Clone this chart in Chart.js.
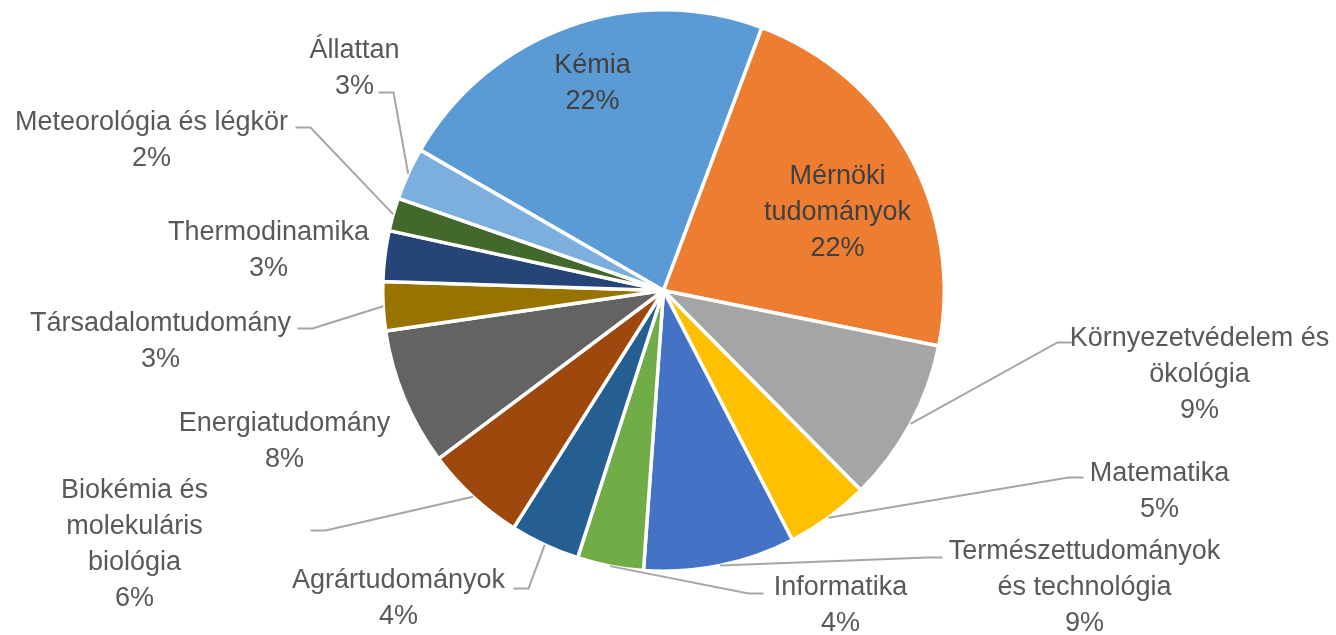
<!DOCTYPE html>
<html>
<head>
<meta charset="utf-8">
<script src="https://cdn.jsdelivr.net/npm/chart.js@4/dist/chart.umd.min.js"></script>
<style>
  html, body { margin: 0; padding: 0; background: #fff; }
  #wrap { width: 1336px; height: 635px; position: relative; }
</style>
</head>
<body>
<div id="wrap"><canvas id="pieChart"></canvas></div>
<script>
// data, in slice order (clockwise, starting with Kémia)
const categories = [
  ['Kémia'],
  ['Mérnöki', 'tudományok'],
  ['Környezetvédelem és', 'ökológia'],
  ['Matematika'],
  ['Természettudományok', 'és technológia'],
  ['Informatika'],
  ['Agrártudományok'],
  ['Biokémia és', 'molekuláris', 'biológia'],
  ['Energiatudomány'],
  ['Társadalomtudomány'],
  ['Thermodinamika'],
  ['Meteorológia és légkör'],
  ['Állattan']
];
const shares = [22.3, 22.4, 9.4, 4.8, 8.7, 3.8, 4.0, 5.8, 7.9, 2.8, 2.9, 1.9, 3.0];
const colors = ['#5B9BD5', '#ED7D31', '#A5A5A5', '#FFC000', '#4472C4', '#70AD47', '#255E91',
                '#9E480E', '#636363', '#997300', '#264478', '#43682B', '#7CAFDD'];

// label layout, offsets from the pie centre: [centre x of text block, first baseline]
const labelPos = [
  [-71, -218], [174, -107], [536, 55], [496, 190], [421, 268], [177, 304], [-265, 297],
  [-529, 207], [-379, 140], [-503, 40], [-395, -51], [-512, -161], [-309, -233]
];
// leader line start (offset from centre) and direction of its short horizontal tick
const leaders = [
  null, null, [409, 52, -1], [420, 187, -1], [279, 267, -1], [100, 303, -1], [-150, 298, 1],
  [-353, 240, 1], null, [-366, 38, 1], null, [-368, -163, 1], [-285, -198, 1]
];

const FONT = '27px "Liberation Sans", Arial, sans-serif';
const LINE_H = 36;
const TICK = 15;

const labelPlugin = {
  id: 'excelLabels',
  afterDatasetsDraw(chart) {
    const ctx = chart.ctx;
    const meta = chart.getDatasetMeta(0);
    const total = shares.reduce((s, v) => s + v, 0);
    ctx.save();
    ctx.font = FONT;
    ctx.textAlign = 'center';
    ctx.textBaseline = 'alphabetic';
    meta.data.forEach((arc, i) => {
      const p = arc.getProps(['x', 'y', 'startAngle', 'endAngle', 'outerRadius'], true);
      const lead = leaders[i];
      if (lead) {
        const mid = (p.startAngle + p.endAngle) / 2;
        ctx.strokeStyle = '#A6A6A6';
        ctx.lineWidth = 2;
        ctx.beginPath();
        ctx.moveTo(p.x + lead[0], p.y + lead[1]);
        ctx.lineTo(p.x + lead[0] + lead[2] * TICK, p.y + lead[1]);
        ctx.lineTo(p.x + Math.cos(mid) * p.outerRadius, p.y + Math.sin(mid) * p.outerRadius);
        ctx.stroke();
      }
      const inside = i < 2;
      ctx.fillStyle = inside ? '#404040' : '#595959';
      const lines = categories[i].concat(Math.round(shares[i] / total * 100) + '%');
      lines.forEach((t, k) => {
        ctx.fillText(t, p.x + labelPos[i][0], p.y + labelPos[i][1] + k * LINE_H);
      });
    });
    ctx.restore();
  }
};

new Chart(document.getElementById('pieChart'), {
  type: 'pie',
  data: {
    labels: categories,
    datasets: [{
      data: shares,
      backgroundColor: colors,
      borderColor: '#FFFFFF',
      borderWidth: 3.5
    }]
  },
  options: {
    responsive: true,
    maintainAspectRatio: false,
    animation: false,
    rotation: -60,
    layout: { padding: { left: 381, right: 390, top: 8, bottom: 62 } },
    plugins: {
      legend: { display: false },
      tooltip: { enabled: false }
    }
  },
  plugins: [labelPlugin]
});
</script>
</body>
</html>
